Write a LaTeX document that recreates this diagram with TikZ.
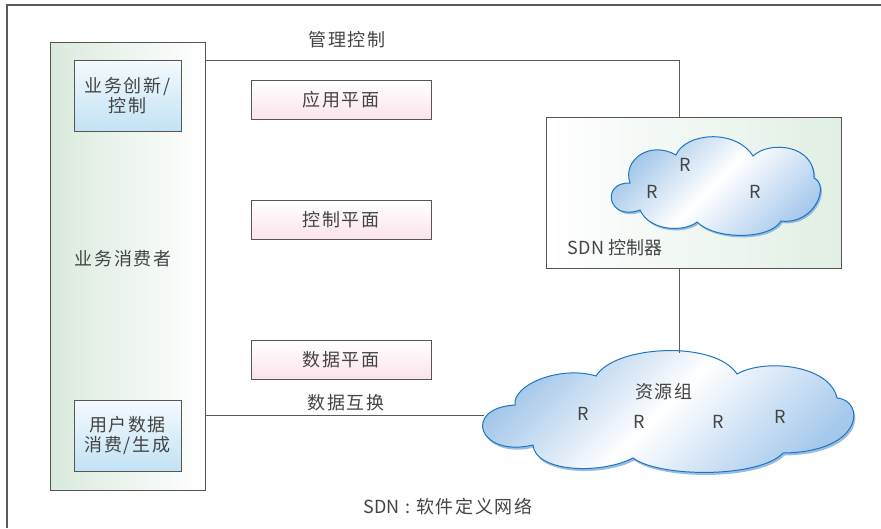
\documentclass[tikz,border=0pt]{standalone}
\usepackage{fontspec}
\setmainfont{Noto Sans CJK SC}[LetterSpace=9]
\newfontfamily\rfont{Noto Sans CJK SC}
\definecolor{textgray}{HTML}{444444}
\definecolor{linegray}{HTML}{5A5A5A}
\definecolor{boxedge}{HTML}{555555}
\definecolor{consgreen}{HTML}{DAEADD}
\definecolor{ctrlgreen}{HTML}{E1EFE4}
\definecolor{planepink}{HTML}{FBE3EC}
\definecolor{bluebox}{HTML}{C2E2F5}
\definecolor{bluetop}{HTML}{F4FAFD}
\definecolor{cloudtl}{RGB}{150,190,230}
\definecolor{cloudbr}{RGB}{165,200,236}
\definecolor{cloudedge}{RGB}{30,118,192}
\definecolor{cloudshadow}{RGB}{110,160,215}
\newcommand{\cloudSmallPath}{(640,210) .. controls (608,222) and (600,182) .. (630,183) .. controls (622,160) and (650,140) .. (676,155) .. controls (685,133) and (735,128) .. (753,156) .. controls (770,140) and (815,145) .. (814,178) .. controls (830,185) and (815,225) .. (781,221) .. controls (770,240) and (715,240) .. (697,222) .. controls (685,232) and (650,232) .. (640,210) -- cycle}
\newcommand{\cloudBigPath}{(533,445) .. controls (478,458) and (462,408) .. (515,405) .. controls (512,385) and (560,365) .. (596,376) .. controls (615,345) and (715,340) .. (737,374) .. controls (765,358) and (830,365) .. (837,398) .. controls (865,400) and (865,452) .. (783,453) .. controls (760,478) and (660,478) .. (633,458) .. controls (600,475) and (535,472) .. (533,445) -- cycle}
\begin{document}
\begin{tikzpicture}[x=1pt,y=-1pt,
  every node/.style={text=textgray, font=\fontsize{18}{20.5}\selectfont, inner sep=0pt},
  box/.style={draw=boxedge, line width=1pt, rectangle},
  plane/.style={box, top color=white, bottom color=planepink, minimum width=180pt, minimum height=39pt},
  bluebx/.style={box, top color=bluetop, bottom color=bluebox, minimum width=107pt, minimum height=71pt, align=center},
  conn/.style={draw=linegray, line width=0.9pt},
  rlabel/.style={font=\rfont\fontsize{18}{20}\selectfont},
  cloudfill/.style={draw=cloudedge, line width=1pt, top color=cloudtl, bottom color=cloudbr, middle color=white, shading angle=45},
  cloudshade/.style={fill=cloudshadow, fill opacity=0.7}
]
\useasboundingbox (0,0) rectangle (881,528);
% outer frame
\draw[draw=linegray, line width=1.2pt] (7,528) -- (7,5) -- (881,5);

% consumer column
\node[box, left color=consgreen, right color=white, minimum width=155pt, minimum height=448pt] (cons) at (127.5,266) {};
\node[bluebx] (biz) at (127.5,95.5) {业务创新/\\控制};
\node[bluebx] (user) at (127.5,435.5) {用户数据\\消费/生成};
\node (consl) at (123,259) {业务消费者};

% planes
\node[plane] (app) at (341,99.5) {应用平面};
\node[plane] (ctlp) at (341,219.5) {控制平面};
\node[plane] (datap) at (341,359.5) {数据平面};

% controller box
\node[box, left color=white, right color=ctrlgreen, minimum width=295pt, minimum height=151pt] (ctrl) at (693.5,192.5) {};

% small cloud
\fill[cloudshade, xshift=1.5pt, yshift=-2pt] \cloudSmallPath;
\path[cloudfill] \cloudSmallPath;
\node[rlabel] (s1) at (685,165) {R};
\node[rlabel] (s2) at (652,192) {R};
\node[rlabel] (s3) at (755,192) {R};
\node (ctrll) at (615,248) {\rfont SDN 控制器};

% big cloud
\fill[cloudshade, xshift=1.5pt, yshift=-2.5pt] \cloudBigPath;
\path[cloudfill] \cloudBigPath;
\node (resl) at (664,392) {资源组};
\node[rlabel] (b1) at (583,414) {R};
\node[rlabel] (b2) at (639,422) {R};
\node[rlabel] (b3) at (718,422) {R};
\node[rlabel] (b4) at (780,417) {R};

% connector coordinates
\coordinate (mgmtcorner) at (679.5,60);
\coordinate (cloudtop) at (679.5,352.5);
\coordinate (cloudleft) at (484,415);

% connectors
\draw[conn] (cons.east |- mgmtcorner) -- (mgmtcorner) -- (mgmtcorner |- ctrl.north);
\draw[conn] (mgmtcorner |- ctrl.south) -- (cloudtop);
\draw[conn] (cons.east |- cloudleft) -- (cloudleft);

% labels
\node (mgmtl) at (347,40) {管理控制};
\node (dxl) at (346,403) {数据互换};
\node (sdnl) at (448,507) {{\rfont SDN}\ :\ 软件定义网络};
\end{tikzpicture}
\end{document}
